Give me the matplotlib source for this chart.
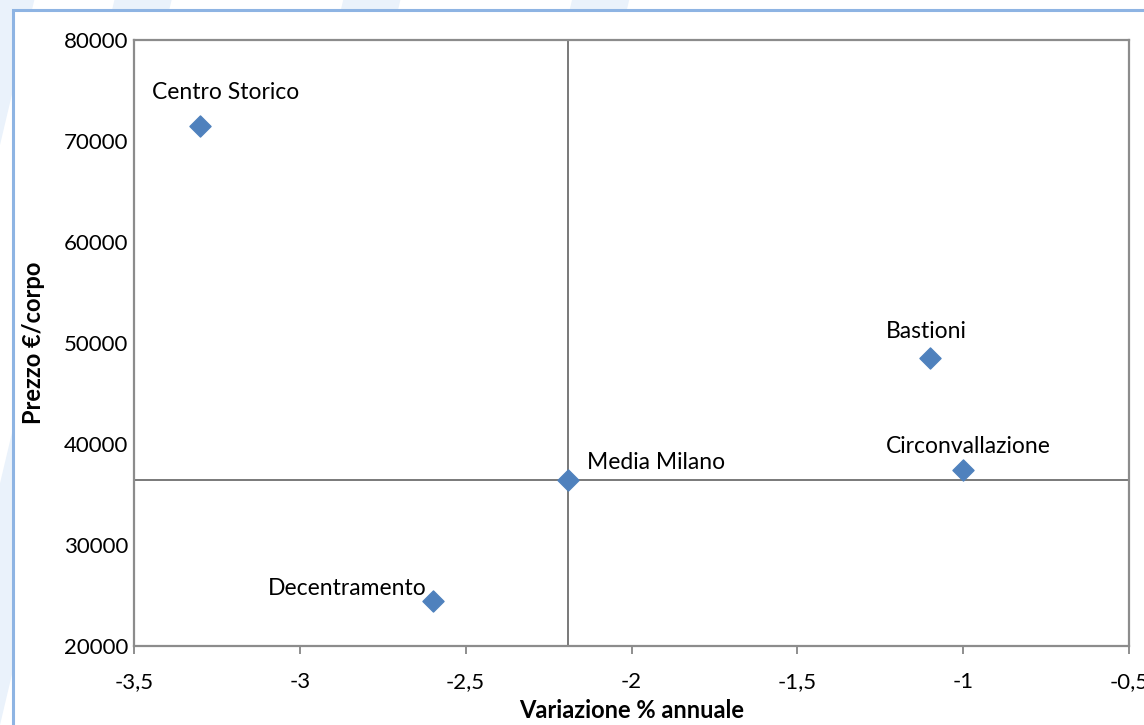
import numpy as np
import matplotlib.pyplot as plt
from matplotlib.patches import Rectangle, Polygon

plt.rcParams['font.family'] = ['Lato', 'DejaVu Sans']

# data
zone = ['Centro Storico', 'Bastioni', 'Circonvallazione', 'Media Milano', 'Decentramento']
variazione = [-3.3, -1.1, -1.0, -2.19, -2.6]
prezzo = [71500, 48500, 37400, 36400, 24500]
x_ticks = [-3.5, -3, -2.5, -2, -1.5, -1, -0.5]
y_ticks = [20000, 30000, 40000, 50000, 60000, 70000, 80000]

# label offsets (points) and alignment
offsets = [(18, 24), (-3, 19), (4, 17), (13, 13), (-4, 9)]
align = ['center', 'center', 'center', 'left', 'right']

fig = plt.figure(figsize=(11.44, 7.25), dpi=100)

# faint decorative stripes in background
for x0 in [-0.02, 0.1, 0.3, 0.5]:
    fig.add_artist(Polygon([[x0, 1.0], [x0 + 0.05, 1.0], [x0 - 0.1, 0.0], [x0 - 0.15, 0.0]],
                           closed=True, transform=fig.transFigure,
                           facecolor='#eaf2fb', edgecolor='none', zorder=-10))

# outer chart frame
fig.add_artist(Rectangle((13 / 1144, -0.1), 1.2, 1 - 10 / 725 + 0.1,
                         transform=fig.transFigure, facecolor='white',
                         edgecolor='#8eb4e3', lw=2.2, zorder=-5))

ax = fig.add_axes([134 / 1144, 1 - 646 / 725, (1129 - 134) / 1144, (646 - 40) / 725])
ax.set_facecolor('white')

# reference lines through Milan average
ax.axvline(variazione[3], color='#6e6e6e', lw=1.3, zorder=1)
ax.axhline(prezzo[3], color='#6e6e6e', lw=1.3, zorder=1)

ax.scatter(variazione, prezzo, marker='D', s=115, color='#4f81bd', zorder=3)

for name, xv, yv, off, ha in zip(zone, variazione, prezzo, offsets, align):
    ax.annotate(name, (xv, yv), xytext=off, textcoords='offset points',
                ha=ha, va='center', fontsize=16.5, color='black')

ax.set_xlim(-3.5, -0.5)
ax.set_ylim(20000, 80000)
ax.set_xticks(x_ticks)
ax.set_xticklabels([str(t).replace('.', ',') if t != int(t) else str(int(t)) for t in x_ticks])
ax.set_yticks(y_ticks)
ax.set_yticklabels([str(t) for t in y_ticks])
ax.tick_params(axis='x', direction='out', length=6, width=1.3, color='#868686',
               labelsize=16, pad=13)
ax.tick_params(axis='y', length=0, labelsize=16, pad=4)

for s in ax.spines.values():
    s.set_color('#8c8c8c')
    s.set_linewidth(1.6)

ax.set_xlabel('Variazione % annuale', fontsize=17, fontweight='bold', labelpad=5)
ax.set_ylabel('Prezzo €/corpo', fontsize=17, fontweight='bold', labelpad=14)

fig.savefig('out.png', dpi=100)
